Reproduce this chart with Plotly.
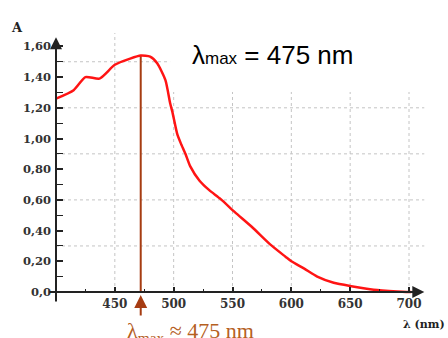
import plotly.graph_objects as go

# ---- data ----
wavelength = [400, 415, 425, 437, 450, 463, 472, 480, 486, 493, 497, 499, 503, 506, 510,
              514, 522, 530, 540, 552, 567, 582, 595, 600, 611, 622, 636, 651, 670, 690, 702]
absorbance = [1.26, 1.315, 1.40, 1.39, 1.48, 1.52, 1.54, 1.533, 1.49, 1.38, 1.23, 1.17, 1.03, 0.97, 0.90,
              0.82, 0.725, 0.665, 0.605, 0.52, 0.42, 0.31, 0.23, 0.20, 0.152, 0.10, 0.06, 0.038, 0.015, 0.004, 0.0]

lambda_max_line = 472
peak_abs = 1.54

x_tickvals = [450, 500, 550, 600, 650, 700]
x_minor = [425, 475, 525, 575, 625, 675]
y_tickvals = [0, 0.2, 0.4, 0.6, 0.8, 1.0, 1.2, 1.4, 1.6]
y_ticktext = ["0,0", "0,20", "0,40", "0,60", "0,80", "1,00", "1,20", "1,40", "1,60"]
y_minor = [0.1, 0.3, 0.5, 0.7, 0.9, 1.1, 1.3, 1.5]

h_grid_full = [0.3, 0.6, 0.9, 1.2]
h_grid_short = [1.5]
v_grid_tall = [450]
v_grid = [500, 550, 600, 650, 700]

# ---- geometry ----
W, H = 448, 338
L, R, T, B = 48, 23, 30, 33
X_RANGE = [393.2, 713.6]
Y_RANGE = [-0.0847, 1.7068]
pw, ph = W - L - R, H - T - B

def px_x(p):
    return (p - L) / pw

def px_y(p):
    return (H - B - p) / ph

axis_col = "#222222"
brown = "#a63c12"
brown_text = "#b5601f"
grid_col = "#c4c4c4"

fig = go.Figure()

fig.add_trace(go.Scatter(x=[lambda_max_line, lambda_max_line], y=[0, peak_abs], mode="lines",
                         line=dict(color=brown, width=2), hoverinfo="skip", showlegend=False))
fig.add_trace(go.Scatter(x=wavelength, y=absorbance, mode="lines",
                         line=dict(color="#ff1414", width=2.5, shape="spline", smoothing=0.6),
                         showlegend=False))

shapes = []
for g in h_grid_full:
    shapes.append(dict(type="line", xref="x", yref="y", x0=400, x1=713, y0=g, y1=g,
                       line=dict(color=grid_col, width=1, dash="dot"), layer="below"))
for g in h_grid_short:
    shapes.append(dict(type="line", xref="x", yref="y", x0=400, x1=497, y0=g, y1=g,
                       line=dict(color=grid_col, width=1, dash="dot"), layer="below"))
for g in v_grid_tall:
    shapes.append(dict(type="line", xref="x", yref="y", x0=g, x1=g, y0=0, y1=1.687,
                       line=dict(color=grid_col, width=1, dash="dot"), layer="below"))
for g in v_grid:
    shapes.append(dict(type="line", xref="x", yref="y", x0=g, x1=g, y0=0, y1=1.303,
                       line=dict(color=grid_col, width=1, dash="dot"), layer="below"))

annotations = [
    # axis lines with arrowheads
    dict(x=713, y=0, ax=X_RANGE[0], ay=0, xref="x", yref="y", axref="x", ayref="y",
         text="", showarrow=True, arrowhead=2, arrowsize=1.2, arrowwidth=2, arrowcolor=axis_col),
    dict(x=400, y=1.66, ax=400, ay=-0.072, xref="x", yref="y", axref="x", ayref="y",
         text="", showarrow=True, arrowhead=2, arrowsize=1.2, arrowwidth=2, arrowcolor=axis_col),
    # lambda max arrow below axis
    dict(x=lambda_max_line, y=-0.0195, ax=0, ay=22, xref="x", yref="y",
         text="", showarrow=True, arrowhead=2, arrowsize=1.3, arrowwidth=2, arrowcolor=brown),
    dict(x=px_x(125), y=px_y(332), xref="paper", yref="paper", xanchor="left", yanchor="middle",
         text="λ<sub>max</sub> ≈ 475 nm", showarrow=False,
         font=dict(family="Liberation Serif", size=22, color=brown_text)),
    dict(x=px_x(190), y=px_y(55), xref="paper", yref="paper", xanchor="left", yanchor="middle",
         text="λ<span style='font-size:17px'>max</span> = 475 nm", showarrow=False,
         font=dict(family="Liberation Sans", size=26, color="#000000")),
    dict(x=px_x(17), y=px_y(28), xref="paper", yref="paper", xanchor="center", yanchor="middle",
         text="A", showarrow=False,
         font=dict(family="DejaVu Serif", size=13, color=axis_col, weight="bold")),
    dict(x=px_x(447), y=px_y(324), xref="paper", yref="paper", xanchor="right", yanchor="middle",
         text="λ (nm)", showarrow=False,
         font=dict(family="DejaVu Serif", size=11, color=axis_col, weight="bold")),
]

fig.update_layout(
    width=W, height=H, autosize=False,
    margin=dict(l=L, r=R, t=T, b=B, pad=0),
    paper_bgcolor="white", plot_bgcolor="white",
    shapes=shapes, annotations=annotations,
    xaxis=dict(range=X_RANGE, anchor="free", position=px_y(292), automargin=False,
               showgrid=False, zeroline=False,
               showline=False, tickvals=x_tickvals, ticks="inside", ticklen=5, tickwidth=1.5,
               tickcolor=axis_col, ticklabelstandoff=3,
               minor=dict(tickvals=x_minor, ticks="inside", ticklen=3,
                          tickwidth=1, tickcolor=axis_col),
               tickfont=dict(family="DejaVu Serif", size=12, color="#333333", weight="bold")),
    yaxis=dict(range=Y_RANGE, anchor="free", position=px_x(56), automargin=False,
               showgrid=False, zeroline=False,
               showline=False, tickvals=y_tickvals, ticktext=y_ticktext, ticks="inside",
               ticklen=6, tickwidth=1.5, tickcolor=axis_col, ticklabelstandoff=5,
               minor=dict(tickvals=y_minor, ticks="inside",
                          ticklen=6, tickwidth=1, tickcolor=axis_col),
               tickfont=dict(family="DejaVu Serif", size=11.5, color="#333333", weight="bold")),
)

fig.write_html("out.html", config={"displayModeBar": False},
               post_script="document.body.style.margin='0';document.body.style.overflow='hidden';")
